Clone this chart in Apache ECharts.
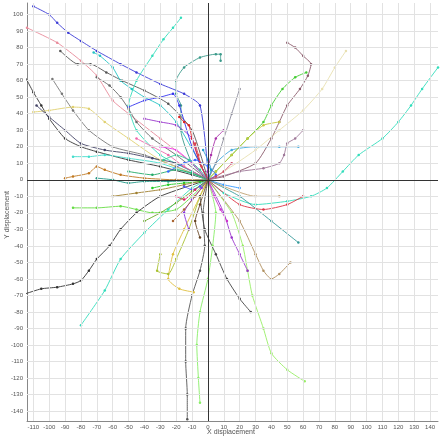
<!DOCTYPE html>
<html>
<head>
<meta charset="utf-8">
<script src="https://cdn.jsdelivr.net/npm/echarts@6/dist/echarts.min.js"></script>
<style>html,body{margin:0;padding:0;background:#fff}#chart{width:440px;height:438px}</style>
</head>
<body>
<div id="chart"></div>
<script>
// 轨迹数据 [x, y]
var track_colors = [
	"#3c3cd6","#e88a9a","#555555","#22c3c3","#33ddbb","#3a9a8a","#8a5a6a","#44cc33","#e8e0b0","#33ddbb",
	"#a07a9a","#44aadd","#8a8a9a","#c8c840","#333333","#777777","#e0d070","#666666","#444466","#c07820",
	"#229988","#44ddcc","#66dd44","#333333","#33ddbb","#a8c030","#e0c040","#555555","#88ee66","#444444",
	"#99ee66","#b09060","#9933cc","#339999","#dd3344","#c0a070","#9933cc","#3333ee","#dd2222","#ee33ee",
	"#22cc22","#a08030","#ee66aa","#3366ff","#aa33aa","#dd2266","#22aa66","#664422","#cc4466","#3399ff",
	"#8833dd","#33cc99","#dd4444","#5555ff","#66aa22","#cc33cc","#2299cc","#aa6633"
];
var tracks = [
	[[-110,105],[-100,100],[-95,95],[-88,89],[-80,84],[-70,78],[-55,70],[-45,65],[-30,58],[-15,52],[-5,45],[0,5]],
	[[-114,92],[-95,83],[-80,72],[-70,63],[-60,48],[-50,40],[-30,25],[-10,10],[0,0]],
	[[-93,78],[-82,70],[-74,70],[-64,65],[-54,60],[-40,54],[-25,46],[-10,30],[0,0]],
	[[-72,77],[-68,75],[-60,68],[-55,60],[-48,55],[-40,50],[-30,45],[-20,35],[-5,10],[0,0]],
	[[-17,98],[-22,92],[-28,85],[-35,75],[-45,60],[-50,45],[-45,30],[-30,15],[-10,5],[0,0]],
	[[8,72],[8,76],[5,76],[-5,74],[-15,68],[-20,60],[-20,52],[-17,45],[-17,30],[-10,10],[0,0]],
	[[50,83],[55,80],[60,75],[65,70],[63,63],[58,55],[50,45],[45,35],[40,25],[30,10],[10,2],[0,0]],
	[[62,65],[55,62],[47,55],[40,45],[35,35],[25,25],[15,15],[5,5],[0,0]],
	[[87,78],[80,68],[72,55],[60,42],[45,30],[30,18],[10,5],[0,0]],
	[[145,68],[135,55],[128,45],[120,35],[110,25],[95,15],[85,5],[75,-5],[65,-10],[50,-13],[30,-15],[10,-8],[0,0]],
	[[60,30],[55,25],[50,22],[48,15],[45,10],[35,7],[20,5],[0,0]],
	[[57,20],[45,20],[30,20],[15,18],[5,10],[0,0]],
	[[20,55],[15,40],[10,25],[5,10],[0,0]],
	[[45,35],[35,33],[25,25],[15,15],[5,5],[0,0]],
	[[-115,62],[-110,53],[-105,45],[-100,37],[-90,25],[-80,20],[-70,17],[-50,12],[-30,8],[-10,3],[0,0]],
	[[-98,61],[-92,52],[-85,42],[-75,30],[-60,20],[-40,15],[-20,8],[0,0]],
	[[-110,41],[-100,42],[-85,44],[-75,43],[-65,35],[-50,25],[-30,12],[0,0]],
	[[-70,62],[-62,57],[-55,50],[-50,43],[-45,35],[-35,25],[-20,15],[0,0]],
	[[-108,45],[-100,38],[-90,30],[-80,22],[-65,18],[-50,16],[-35,13],[-20,10],[0,0]],
	[[-90,1],[-85,2],[-75,4],[-70,8],[-65,6],[-55,3],[-40,1],[-20,0],[0,0]],
	[[-70,1],[-60,0],[-50,-2],[-40,-1],[-25,-1],[0,0]],
	[[-85,14],[-75,14],[-65,15],[-50,13],[-30,10],[0,0]],
	[[-85,-17],[-70,-17],[-55,-16],[-45,-18],[-35,-20],[-20,-18],[-10,-10],[0,0]],
	[[-115,-69],[-105,-66],[-95,-65],[-85,-63],[-80,-61],[-75,-55],[-70,-48],[-62,-40],[-55,-30],[-45,-20],[-30,-10],[0,0]],
	[[-80,-88],[-65,-67],[-55,-48],[-40,-32],[-25,-18],[-10,-5],[0,0]],
	[[-30,-45],[-32,-55],[-25,-57],[-20,-48],[-12,-30],[-5,-10],[0,0]],
	[[-9,-68],[-18,-66],[-25,-60],[-22,-45],[-15,-30],[-5,-10],[0,0]],
	[[0,0],[-3,-20],[-2,-40],[-5,-55],[-10,-70],[-14,-90],[-14,-110],[-13,-130],[-13,-145]],
	[[0,0],[5,-20],[3,-40],[0,-60],[-5,-80],[-7,-100],[-6,-120],[-5,-135]],
	[[-5,-10],[-2,-30],[5,-45],[12,-60],[20,-72],[27,-80]],
	[[0,0],[15,-20],[22,-40],[25,-55],[28,-70],[35,-90],[40,-105],[50,-115],[61,-122]],
	[[0,0],[20,-25],[30,-45],[35,-55],[40,-60],[45,-57],[52,-50]],
	[[0,0],[10,-20],[15,-35],[20,-45],[25,-55]],
	[[0,0],[20,-10],[40,-25],[57,-38]],
	[[0,0],[20,-15],[35,-18],[50,-15],[60,-10]],
	[[0,0],[30,-10],[45,-10]],
	[[-40,37],[-30,35],[-20,33],[-10,25],[-5,10],[0,0]],
	[[-50,44],[-40,48],[-30,50],[-22,52],[-18,45],[-10,20],[0,0]],
	[[-18,38],[-15,35],[-12,33],[-10,25],[-5,10],[0,0]],
	[[-30,20],[-20,18],[-10,10],[0,0]],
	[[-35,-5],[-25,-3],[-15,-2],[-5,-1],[0,0]],
	[[-60,-10],[-45,-8],[-30,-6],[-15,-3],[0,0]],
	[[-45,25],[-35,20],[-25,15],[-15,8],[0,0]],
	[[-25,5],[-15,10],[-8,12],[0,8],[5,3],[0,0]],
	[[10,30],[5,25],[2,15],[0,5],[0,0]],
	[[-20,-10],[-15,-12],[-8,-6],[0,0]],
	[[-50,5],[-35,3],[-20,6],[-10,4],[0,0]],
	[[-5,-35],[-8,-25],[-5,-15],[0,0]],
	[[15,10],[10,5],[5,2],[0,0]],
	[[20,-5],[10,-3],[0,0]],
	[[-12,-30],[-15,-20],[-10,-12],[-4,-5],[0,0]],
	[[-28,12],[-20,15],[-12,12],[-5,6],[0,0]],
	[[-8,22],[-6,15],[-4,8],[0,0]],
	[[-15,-4],[-10,-6],[-5,-4],[0,0]],
	[[-40,-25],[-30,-20],[-20,-14],[-10,-7],[0,0]],
	[[12,-25],[8,-18],[4,-10],[0,0]],
	[[-3,18],[0,12],[2,6],[0,0]],
	[[-22,-25],[-15,-18],[-8,-10],[0,0]]
];
var x_ticks = [-110,-100,-90,-80,-70,-60,-50,-40,-30,-20,-10,0,10,20,30,40,50,60,70,80,90,100,110,120,130,140];
var y_ticks = [-140,-130,-120,-110,-100,-90,-80,-70,-60,-50,-40,-30,-20,-10,0,10,20,30,40,50,60,70,80,90,100];
var x_min = -114, x_max = 145, y_min = -146, y_max = 107;

var series = [];
for (var i = 0; i < tracks.length; i++) {
	series.push({
		type: "line",
		data: tracks[i],
		smooth: 0.2,
		symbol: "circle",
		symbolSize: 2.5,
		z: 3,
		itemStyle: { color: track_colors[i % track_colors.length] },
		lineStyle: { width: 0.9, color: track_colors[i % track_colors.length] },
		silent: true,
		animation: false
	});
}
// 网格线
var grid_lines = [];
x_ticks.forEach(function(v){ grid_lines.push({ xAxis: v }); });
y_ticks.forEach(function(v){ grid_lines.push({ yAxis: v }); });
series.push({
	type: "line",
	data: [],
	z: 1,
	markLine: {
		silent: true,
		symbol: "none",
		label: { show: false },
		lineStyle: { type: "solid", color: "#e2e2e2", width: 1 },
		data: grid_lines,
		animation: false
	},
	animation: false
});
// 坐标零线
series.push({
	type: "line", data: [], z: 4,
	markLine: {
		silent: true, symbol: "none", label: { show: false },
		lineStyle: { type: "solid", color: "#333", width: 1 },
		data: [{ xAxis: 0 }, { yAxis: 0 }], animation: false
	}
});

var myChart = echarts.init(document.getElementById("chart"));
myChart.setOption({
	grid: { left: 27, right: 2, top: 3, bottom: 17, containLabel: false, outerBoundsMode: "none" },
	graphic: [
		{ type: "text", x: 231, y: 432, style: { text: "X displacement", fontSize: 7, fill: "#555", align: "center", verticalAlign: "middle" } },
		{ type: "text", x: 7, y: 215, rotation: Math.PI / 2, style: { text: "Y displacement", fontSize: 7, fill: "#555", align: "center", verticalAlign: "middle" } }
	],
	xAxis: {
		type: "value", min: x_min, max: x_max,
		axisLine: { onZero: false, lineStyle: { color: "#888" } },
		axisTick: { show: false },
		axisLabel: { fontSize: 6, color: "#555", margin: 3, customValues: x_ticks },
		splitLine: { show: false }
	},
	yAxis: {
		type: "value", min: y_min, max: y_max,
		axisLine: { onZero: false, lineStyle: { color: "#888" } },
		axisTick: { show: false },
		axisLabel: { fontSize: 6, color: "#555", margin: 4, customValues: y_ticks },
		splitLine: { show: false }
	},
	series: series
});
</script>
</body>
</html>
